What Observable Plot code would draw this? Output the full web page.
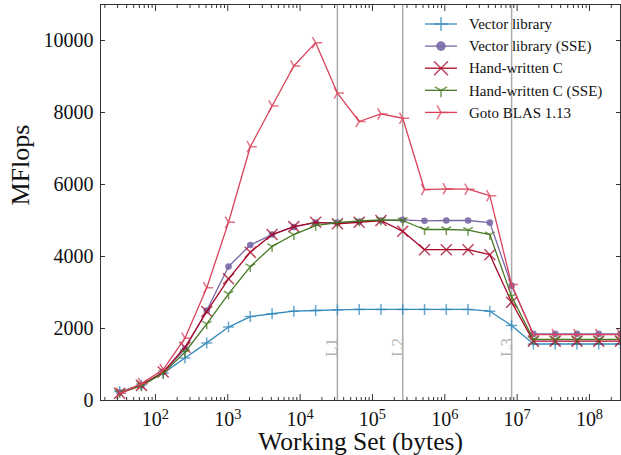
<!DOCTYPE html>
<html><head><meta charset="utf-8">
<script src="https://cdn.jsdelivr.net/npm/d3@7"></script>
<script src="https://cdn.jsdelivr.net/npm/@observablehq/plot@0.6"></script>
<style>html,body{margin:0;padding:0;background:#fff}svg{display:block}</style>
</head><body><div id="chart"></div>
<script>
// Working set sizes (bytes)
const sizes = [32, 64, 128, 256, 512, 1024, 2048, 4096, 8192, 16384, 32768, 65536,
  131072, 262144, 524288, 1048576, 2097152, 4194304, 8388608, 16777216,
  33554432, 67108864, 134217728, 268435456];

// MFlops per series
const vectorLib    = [250, 430, 760, 1180, 1600, 2040, 2330, 2410, 2480, 2500, 2520, 2530,
  2530, 2530, 2530, 2530, 2530, 2480, 2080, 1570, 1570, 1570, 1570, 1570];
const vectorLibSSE = [230, 420, 790, 1430, 2500, 3720, 4320, 4610, 4820, 4940, 4940, 4970,
  5000, 5020, 4990, 5000, 5000, 4940, 3190, 1850, 1850, 1850, 1850, 1850];
const handC        = [200, 420, 790, 1480, 2470, 3380, 4120, 4610, 4830, 4950, 4910, 4950,
  5000, 4700, 4190, 4190, 4190, 4050, 2730, 1650, 1650, 1650, 1650, 1650];
const handCSSE     = [220, 410, 760, 1340, 2130, 2960, 3720, 4280, 4610, 4860, 4940, 4990,
  5020, 5000, 4750, 4750, 4730, 4610, 2890, 1700, 1700, 1700, 1700, 1700];
const gotoBLAS     = [200, 470, 860, 1730, 3130, 4950, 7050, 8180, 9290, 9940, 8540, 7750,
  7960, 7840, 5860, 5880, 5870, 5690, 3220, 1830, 1830, 1830, 1830, 1830];

const seriesNames  = ["Vector library", "Vector library (SSE)", "Hand-written C", "Hand-written C (SSE)", "Goto BLAS 1.13"];
const seriesValues = [vectorLib, vectorLibSSE, handC, handCSSE, gotoBLAS];
const seriesColors = ["#348ABD", "#7A68A6", "#A60628", "#467821", "#D9435A"];

// Cache boundaries
const cacheSizes  = [32768, 262144, 8388608];
const cacheLabels = ["L1", "L2", "L3"];

// Ticks
const yTicks = [0, 2000, 4000, 6000, 8000, 10000];
const xMajorTicks = [1e2, 1e3, 1e4, 1e5, 1e6, 1e7, 1e8];
const xMinorTicks = [];
for (let k = 1; k <= 8; k++) for (let m = 2; m <= 9; m++) {
  const v = m * Math.pow(10, k);
  if (v > 17.4 && v < 2 ** 28) xMinorTicks.push(v);
}

// Marker shapes (d3-symbol-compatible)
const armOf = s => Math.sqrt(s / Math.PI);
const symPlus = {draw(c, s) { const r = armOf(s); c.moveTo(-r, 0); c.lineTo(r, 0); c.moveTo(0, -r); c.lineTo(0, r); }};
const symTimes = {draw(c, s) { const r = armOf(s); c.moveTo(-r, -r); c.lineTo(r, r); c.moveTo(-r, r); c.lineTo(r, -r); }};
const symTriDown = {draw(c, s) { const r = armOf(s); c.moveTo(0, 0); c.lineTo(0, r); c.moveTo(0, 0); c.lineTo(-0.866 * r, -0.5 * r); c.moveTo(0, 0); c.lineTo(0.866 * r, -0.5 * r); }};
const symTriRight = {draw(c, s) { const r = armOf(s); c.moveTo(0, 0); c.lineTo(r, 0); c.moveTo(0, 0); c.lineTo(-0.5 * r, -0.866 * r); c.moveTo(0, 0); c.lineTo(-0.5 * r, 0.866 * r); }};
const markerDefs = [
  {symbol: symPlus, r: 5.5, filled: false},
  {symbol: d3.symbolCircle, r: 3.3, filled: true},
  {symbol: symTimes, r: 5.5, filled: false},
  {symbol: symTriDown, r: 5.5, filled: false},
  {symbol: symTriRight, r: 6.5, filled: false}
];

const supMap = {"0":"⁰","1":"¹","2":"²","3":"³","4":"⁴","5":"⁵","6":"⁶","7":"⁷","8":"⁸","9":"⁹"};
const supFormat = d => "10" + String(Math.round(Math.log10(d))).split("").map(c => supMap[c]).join("");

const marks = [
  Plot.ruleX(cacheSizes, {stroke: "#aaaaaa", strokeWidth: 1.5}),
  Plot.text(cacheSizes, {x: d => d, text: (d, i) => cacheLabels[i], frameAnchor: "bottom", dy: -53,
    rotate: -90, fill: "#b4b4b4", fontSize: 17})
];
seriesValues.forEach((vals, si) => {
  const rows = sizes.map((s, i) => ({size: s, value: vals[i]}));
  const m = markerDefs[si];
  marks.push(Plot.line(rows, {x: "size", y: "value", stroke: seriesColors[si], strokeWidth: 1.3}));
  marks.push(Plot.dot(rows, m.filled
    ? {x: "size", y: "value", symbol: m.symbol, r: m.r, fill: seriesColors[si], stroke: "none", fillOpacity: 0.9}
    : {x: "size", y: "value", symbol: m.symbol, r: m.r, fill: "none", stroke: seriesColors[si], strokeWidth: 1.5, strokeOpacity: 0.75}));
});
marks.push(
  Plot.axisY(yTicks, {tickSize: -5, tickPadding: 12, fontSize: 20, tickFormat: d3.format("d"), label: null, stroke: "#333"}),
  Plot.axisY(yTicks, {anchor: "right", tickSize: -5, tickFormat: () => "", label: null, stroke: "#333"}),
  Plot.axisX(xMajorTicks, {tickSize: -6, tickPadding: 17, fontSize: 20, tickFormat: supFormat, label: null, stroke: "#333"}),
  Plot.axisX(xMinorTicks, {tickSize: -3, tickFormat: () => "", label: null, stroke: "#333"}),
  Plot.axisX(xMajorTicks, {anchor: "top", tickSize: -6, tickFormat: () => "", label: null, stroke: "#333"}),
  Plot.axisX(xMinorTicks, {anchor: "top", tickSize: -3, tickFormat: () => "", label: null, stroke: "#333"}),
  Plot.frame({stroke: "#333", strokeWidth: 1}),
  Plot.text(["MFlops"], {frameAnchor: "left", dx: -72, dy: 3, rotate: -90, lineAnchor: "bottom", fontSize: 26, fill: "#111"}),
  Plot.text(["Working Set (bytes)"], {frameAnchor: "bottom", dy: 49, lineAnchor: "bottom", fontSize: 25.5, fill: "#111"})
);

const plot = Plot.plot({
  width: 621, height: 455,
  marginLeft: 100, marginRight: 1, marginTop: 4, marginBottom: 55,
  style: {fontFamily: "'Liberation Serif', 'DejaVu Serif', serif", background: "#fff", color: "#111"},
  x: {type: "log", domain: [17.4, 2 ** 28]},
  y: {domain: [0, 11000]},
  marks
});

// Proper superscripts on x tick labels
const unsup = Object.fromEntries(Object.entries(supMap).map(([k, v]) => [v, k]));
d3.select(plot).selectAll('g[aria-label="x-axis tick label"] text').each(function () {
  const t = this.textContent;
  if (!t || !t.startsWith("10") || t.length < 3) return;
  const exp = t.slice(2).split("").map(c => unsup[c] ?? c).join("");
  const sel = d3.select(this);
  sel.text(null);
  sel.append("tspan").text("10");
  sel.append("tspan").attr("dy", "-0.45em").attr("font-size", "0.72em").text(exp);
});

// Legend
const svg = d3.select(plot);
const lg = svg.append("g").attr("font-size", 15).attr("font-family", "'Liberation Serif', serif")
  .attr("fill", "#111").attr("text-anchor", "start");
seriesNames.forEach((name, i) => {
  const y = 24 + i * 22.1;
  const m = markerDefs[i];
  lg.append("line").attr("x1", 425).attr("x2", 457).attr("y1", y).attr("y2", y)
    .attr("stroke", seriesColors[i]).attr("stroke-width", 1.3);
  const p = lg.append("path").attr("transform", `translate(441,${y})`)
    .attr("d", d3.symbol(m.symbol, Math.PI * (m.r + 1.5) * (m.r + 1.5))());
  if (m.filled) p.attr("fill", seriesColors[i]).attr("fill-opacity", 0.9);
  else p.attr("fill", "none").attr("stroke", seriesColors[i]).attr("stroke-width", 1.5).attr("stroke-opacity", 0.75);
  lg.append("text").attr("x", 469).attr("y", y).attr("dy", "0.35em").attr("text-anchor", "start").text(name);
});

document.getElementById("chart").appendChild(plot);
</script>
</body></html>
